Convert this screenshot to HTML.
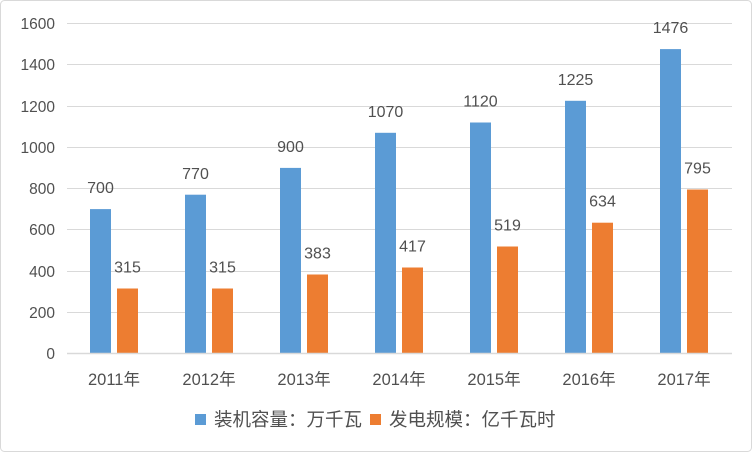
<!DOCTYPE html>
<html><head><meta charset="utf-8"><style>
body{margin:0;background:#fff}
svg text{font-family:"Liberation Sans","Noto Sans CJK SC",sans-serif;fill:#505050}
</style></head><body>
<svg width="752" height="452" xmlns="http://www.w3.org/2000/svg">
<rect x="0.5" y="0.5" width="751" height="451" rx="4" fill="#fff" stroke="#d9d9d9"/>
<g stroke="#d9d9d9" stroke-width="1">
<line x1="67" x2="732" y1="23.5" y2="23.5"/>
<line x1="67" x2="732" y1="64.5" y2="64.5"/>
<line x1="67" x2="732" y1="106.5" y2="106.5"/>
<line x1="67" x2="732" y1="147.5" y2="147.5"/>
<line x1="67" x2="732" y1="188.5" y2="188.5"/>
<line x1="67" x2="732" y1="229.5" y2="229.5"/>
<line x1="67" x2="732" y1="271.5" y2="271.5"/>
<line x1="67" x2="732" y1="312.5" y2="312.5"/>
</g>
<g font-size="15.5" text-anchor="end">
<text x="55" y="29">1600</text><text x="55" y="70">1400</text><text x="55" y="112">1200</text>
<text x="55" y="153">1000</text><text x="55" y="194">800</text><text x="55" y="235">600</text>
<text x="55" y="277">400</text><text x="55" y="318">200</text><text x="55" y="359">0</text>
</g>
<g fill="#5b9bd5">
<rect x="90" y="209.1" width="21" height="144.4"/>
<rect x="185" y="194.7" width="21" height="158.8"/>
<rect x="280" y="167.9" width="21" height="185.6"/>
<rect x="375" y="132.8" width="21" height="220.7"/>
<rect x="470" y="122.5" width="21" height="231"/>
<rect x="565" y="100.8" width="21" height="252.7"/>
<rect x="660" y="49.1" width="21" height="304.4"/>
</g>
<g fill="#ed7d31">
<rect x="117" y="288.5" width="21" height="65"/>
<rect x="212" y="288.5" width="21" height="65"/>
<rect x="307" y="274.5" width="21" height="79"/>
<rect x="402" y="267.5" width="21" height="86"/>
<rect x="497" y="246.5" width="21" height="107"/>
<rect x="592" y="222.7" width="21" height="130.8"/>
<rect x="687" y="189.5" width="21" height="164"/>
</g>
<g font-size="16" text-anchor="middle">
<text x="100.5" y="193">700</text>
<text x="195.5" y="179">770</text>
<text x="290.5" y="152">900</text>
<text x="385.5" y="117">1070</text>
<text x="480.5" y="106.5">1120</text>
<text x="575.5" y="85">1225</text>
<text x="670.5" y="33">1476</text>
<text x="127.5" y="272.5">315</text>
<text x="222.5" y="272.5">315</text>
<text x="317.5" y="258.5">383</text>
<text x="412.5" y="251.5">417</text>
<text x="507.5" y="230.5">519</text>
<text x="602.5" y="206.5">634</text>
<text x="697.5" y="173.5">795</text>
</g>
<g font-size="16.5" text-anchor="middle">
<text x="114" y="385">2011年</text>
<text x="209" y="385">2012年</text>
<text x="304" y="385">2013年</text>
<text x="399" y="385">2014年</text>
<text x="494" y="385">2015年</text>
<text x="589" y="385">2016年</text>
<text x="684" y="385">2017年</text>
</g>
<line x1="67" x2="732" y1="353.5" y2="353.5" stroke="#d9d9d9" stroke-width="1.5"/>
<rect x="195" y="414" width="11" height="11" fill="#5b9bd5"/>
<text x="214" y="426" font-size="18.5">装机容量：万千瓦</text>
<rect x="370" y="414" width="11" height="11" fill="#ed7d31"/>
<text x="389" y="426" font-size="18.5">发电规模：亿千瓦时</text>
</svg>
</body></html>
